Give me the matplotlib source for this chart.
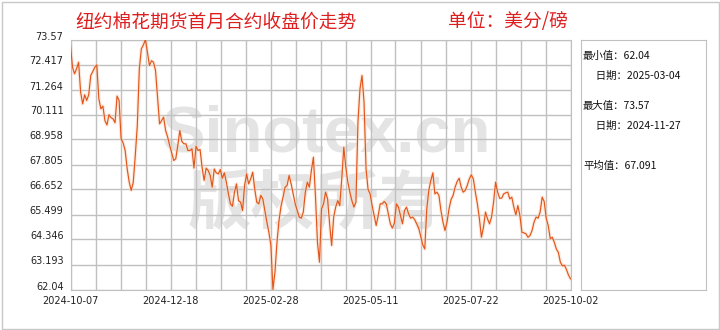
import numpy as np
import pandas as pd
import matplotlib
matplotlib.use("Agg")
import matplotlib.pyplot as plt
import matplotlib.transforms as mtransforms
from matplotlib.patches import Rectangle

plt.rcParams['font.family'] = ['Noto Sans CJK SC', 'DejaVu Sans']

# 纽约棉花期货首月合约收盘价 (美分/磅), 交易日 2024-10-07 ~ 2025-10-02
start_date = '2024-10-07'
end_date = '2025-10-02'
holidays = ['2024-11-28', '2024-12-25', '2025-01-01', '2025-01-09', '2025-01-20',
            '2025-02-17', '2025-04-18', '2025-05-26', '2025-06-19', '2025-07-04',
            '2025-09-01']

prices = [
    73.29, 72.29, 71.99, 72.22, 72.52, 71.14, 70.60, 71.02, 70.76, 71.02,
    71.91, 72.09, 72.29, 72.40, 70.83, 70.37, 70.50, 69.83, 69.63, 70.10,
    69.97, 69.91, 69.73, 70.96, 70.76, 68.99, 68.80, 68.45, 67.61, 66.99,
    66.61, 66.99, 68.22, 69.60, 72.22, 73.14, 73.32, 73.57, 72.99, 72.37,
    72.59, 72.52, 72.14, 70.91, 69.68, 69.83, 69.99, 69.37, 69.07, 68.68,
    68.34,
    67.99, 68.07, 68.68, 69.37, 68.87, 68.76, 68.76, 68.45, 68.45, 68.53,
    67.64, 68.65, 68.45, 68.50, 67.68, 67.07, 67.64, 67.53, 67.30, 66.76,
    67.60, 67.42, 67.37, 67.57, 67.17, 67.42, 66.99, 66.45, 65.99, 65.88,
    66.53, 66.91, 66.14, 66.07, 65.68, 66.84, 67.37, 66.91, 67.14, 67.45,
    66.68, 66.07, 65.99, 66.38, 66.22, 65.68, 65.15, 64.68, 64.07, 62.04,
    62.84, 64.22, 65.22, 65.88, 66.30, 66.76, 66.84, 67.30, 66.91, 66.45,
    65.99, 65.68, 65.38, 65.33, 65.61, 66.53, 66.99, 66.76, 67.53, 68.14,
    66.37, 64.22, 63.30, 65.76, 65.99, 66.53, 66.22, 65.07, 64.07, 65.38,
    65.84, 66.14, 65.91, 67.14, 68.60, 67.68, 66.99, 66.53, 66.14, 65.84,
    66.07, 69.76, 71.29, 71.91, 70.68, 67.61, 66.65, 66.45, 65.91, 65.45,
    64.99, 65.45, 65.99, 65.99, 66.10, 65.99, 65.53, 65.07, 64.87, 65.11,
    65.99, 65.84, 65.45, 65.07, 65.68, 65.84, 65.53, 65.33, 65.38, 65.27,
    65.07, 64.87, 64.50, 64.10, 63.91, 65.76, 66.61, 67.07, 67.42, 66.45,
    66.53, 66.38, 65.68, 65.15, 64.76, 65.15, 65.76, 66.19, 66.38, 66.76,
    67.02, 67.17, 66.76, 66.53, 66.61, 66.84, 67.14, 67.33, 67.14,
    66.53, 65.99, 65.30, 64.45, 64.91, 65.61, 65.30, 65.07, 65.38, 66.07,
    66.99, 66.53, 66.25, 66.25, 66.45, 66.50, 66.53, 66.22, 66.30, 65.84,
    65.48, 65.91, 65.45, 64.68, 64.65, 64.61, 64.45, 64.53, 64.76, 65.15,
    65.38, 65.33, 65.61, 66.30, 66.10, 65.33, 64.99, 64.38, 64.45, 64.22,
    63.91, 63.75, 63.30, 63.13, 63.16, 62.96, 62.71, 62.53,
]

x_labels = ['2024-10-07', '2024-12-18', '2025-02-28', '2025-05-11', '2025-07-22', '2025-10-02']
y_labels = ['62.04', '63.193', '64.346', '65.499', '66.652', '67.805',
            '68.958', '70.111', '71.264', '72.417', '73.57']

title = '纽约棉花期货首月合约收盘价走势'
unit = '单位：美分/磅'
stats_lines = ['最小值：62.04', '　 日期：2025-03-04', '最大值：73.57', '　 日期：2024-11-27', '平均值：67.091']

dates = pd.date_range(start_date, end_date, freq=pd.offsets.CustomBusinessDay(holidays=holidays))
prices = np.array(prices)
idx = np.arange(len(prices))

W, H = 720, 330
fig = plt.figure(figsize=(W / 100, H / 100), dpi=100)
fig.patch.set_facecolor('white')
fig.patches.append(Rectangle((1.5 / W, 1.5 / H), 1 - 3 / W, 1 - 3 / H, transform=fig.transFigure,
                             fill=False, edgecolor='#c8c8c8', lw=1))

# half-pixel offsets keep the 1px grid lines crisp
ax = fig.add_axes([70.5 / W, 40.5 / H, 500 / W, 250 / H])
grid_c = '#c0c0c0'
ymin, ymax = prices.min(), prices.max()
xmax = len(prices) - 1
ax.set_xlim(0, xmax)
ax.set_ylim(ymin, ymax)

yticks = np.linspace(ymin, ymax, len(y_labels))
ax.set_xticks(np.linspace(0, xmax, len(x_labels)))
ax.set_xticklabels(x_labels, fontsize=7, family='DejaVu Sans', color='#222222')
ax.set_yticks(yticks)
ax.set_yticklabels(y_labels, fontsize=7, family='DejaVu Sans', color='#222222')
ax.tick_params(axis='both', which='both', length=0, pad=5)
up = mtransforms.ScaledTranslation(0, 4 / 100, fig.dpi_scale_trans)
for lab in ax.get_yticklabels():
    lab.set_transform(lab.get_transform() + up)

# grid: 20 columns, 10 rows
ax.vlines(np.linspace(0, xmax, 21), ymin, ymax, color=grid_c, lw=1, zorder=1)
ax.hlines(yticks, 0, xmax, color=grid_c, lw=1, zorder=1)
for s in ax.spines.values():
    s.set_color(grid_c)

# watermark
ax.text(0.51, 0.62, 'Sinotex.cn', transform=ax.transAxes, ha='center', va='center',
        fontsize=47, family='Liberation Sans', fontweight='bold', color='#e4e4e4', zorder=0.2)
ax.text(0.49, 0.34, '版权所有', transform=ax.transAxes, ha='center', va='center',
        fontsize=46, fontweight='bold', color='#e4e4e4', zorder=0.2)

ax.plot(idx, prices, color='#fbd9bf', lw=2.6, alpha=0.5, zorder=2, solid_joinstyle='round')
ax.plot(idx, prices, color='#e2561c', lw=0.85, zorder=3)

# titles
red = '#de1f1f'
fig.text(75 / W, 1 - 22 / H, title, color=red, fontsize=13.5, ha='left', va='center')
fig.text(448 / W, 1 - 22 / H, unit, color=red, fontsize=13.5, ha='left', va='center')

# statistics panel
pax = fig.add_axes([580.5 / W, 40.5 / H, 125 / W, 250 / H])
pax.set_xticks([])
pax.set_yticks([])
for s in pax.spines.values():
    s.set_color(grid_c)
for line, ypx in zip(stats_lines, [56, 76, 106, 126, 166]):
    fig.text(583 / W, 1 - ypx / H, line, fontsize=7.5, color='#111111', ha='left', va='center')

fig.savefig('out.png', dpi=100)
